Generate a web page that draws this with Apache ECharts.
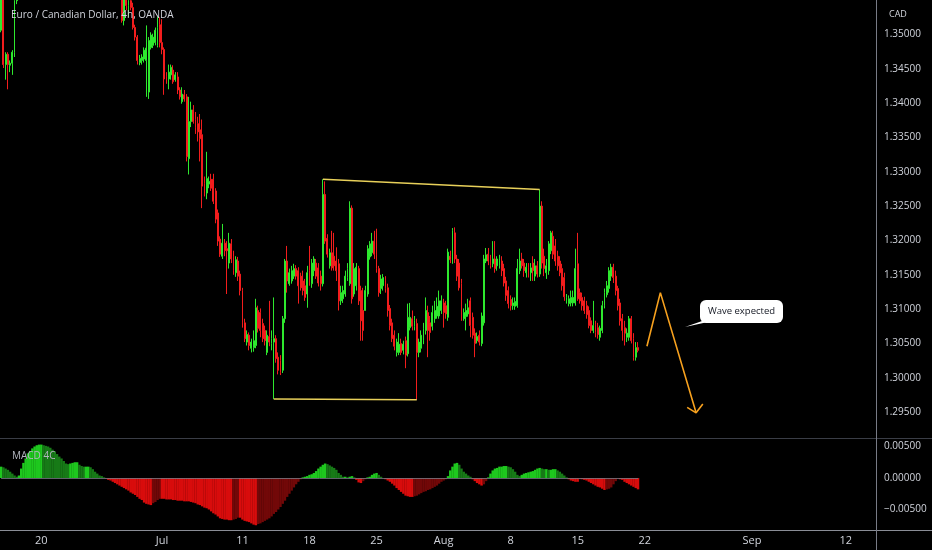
<!DOCTYPE html>
<html>
<head>
<meta charset="utf-8">
<script src="https://cdn.jsdelivr.net/npm/echarts@6.0.0/dist/echarts.min.js"></script>
<style>
html,body{margin:0;padding:0;background:#000;}
#chart{width:932px;height:550px;}
</style>
</head>
<body>
<div id="chart"></div>
<script>
// ---------- calendar ----------
const FIRST_DAY = [2022, 5, 15];      // 2022-06-15 (first 4h bar shown)
const TOTAL_SLOTS = 392;              // bars that fit the visible time range
const HOURS = [0, 4, 8, 12, 16, 20];

// tick labels of the time axis: [day, text]
const tickLabels = [
  ['2022-06-20', '20'], ['2022-07-01', 'Jul'], ['2022-07-11', '11'], ['2022-07-18', '18'],
  ['2022-07-25', '25'], ['2022-08-01', 'Aug'], ['2022-08-08', '8'], ['2022-08-15', '15'],
  ['2022-08-22', '22'], ['2022-09-01', 'Sep'], ['2022-09-12', '12']
];

// ---------- EUR/CAD 4h candles: [open, high, low, close] ----------
const bars_jun15_jun17 = [
  [1.3506,1.3558,1.3503,1.3551],[1.3551,1.3554,1.3451,1.3456],[1.3456,1.3474,1.3434,1.3471],
  [1.3471,1.3474,1.3420,1.3456],[1.3455,1.3462,1.3445,1.3458],[1.3458,1.3477,1.3441,1.3474],
  [1.3474,1.3558,1.3467,1.3549],[1.3549,1.3566,1.3544,1.3562],[1.3562,1.3580,1.3557,1.3575],
  [1.3575,1.3596,1.3570,1.3590],[1.3590,1.3606,1.3585,1.3600],[1.3600,1.3618,1.3594,1.3612],
  [1.3612,1.3636,1.3607,1.3630],[1.3630,1.3652,1.3624,1.3645],[1.3645,1.3650,1.3634,1.3640],
  [1.3640,1.3661,1.3635,1.3655],[1.3655,1.3674,1.3649,1.3668],[1.3668,1.3682,1.3662,1.3675]
];
const bars_jun20_jun24 = [
  [1.3675,1.3680,1.3654,1.3660],[1.3660,1.3666,1.3644,1.3650],[1.3650,1.3661,1.3645,1.3655],
  [1.3655,1.3660,1.3634,1.3640],[1.3640,1.3646,1.3626,1.3632],[1.3632,1.3651,1.3628,1.3645],
  [1.3645,1.3650,1.3632,1.3638],[1.3638,1.3643,1.3619,1.3625],[1.3625,1.3636,1.3620,1.3630],
  [1.3630,1.3635,1.3612,1.3618],[1.3618,1.3628,1.3613,1.3622],[1.3622,1.3646,1.3617,1.3640],
  [1.3640,1.3661,1.3635,1.3655],[1.3655,1.3660,1.3644,1.3650],[1.3650,1.3668,1.3645,1.3662],
  [1.3662,1.3667,1.3642,1.3648],[1.3648,1.3653,1.3629,1.3635],[1.3635,1.3646,1.3630,1.3640],
  [1.3640,1.3645,1.3622,1.3628],[1.3628,1.3633,1.3609,1.3615],[1.3615,1.3626,1.3610,1.3620],
  [1.3620,1.3625,1.3599,1.3605],[1.3605,1.3610,1.3592,1.3598],[1.3598,1.3616,1.3593,1.3610],
  [1.3610,1.3615,1.3596,1.3602],[1.3602,1.3607,1.3584,1.3590],[1.3590,1.3595,1.3579,1.3585],
  [1.3585,1.3598,1.3580,1.3592],[1.3592,1.3597,1.3572,1.3578],[1.3578,1.3583,1.3564,1.3570]
];
const bars_jun27_jul01 = [
  [1.3570,1.3581,1.3565,1.3575],[1.3575,1.3580,1.3559,1.3565],[1.3565,1.3578,1.3560,1.3572],
  [1.3572,1.3577,1.3562,1.3568],[1.3568,1.3573,1.3552,1.3558],[1.3558,1.3566,1.3553,1.3560],
  [1.3560,1.3565,1.3517,1.3520],[1.3520,1.3558,1.3513,1.3552],[1.3552,1.3555,1.3535,1.3542],
  [1.3542,1.3555,1.3525,1.3549],[1.3549,1.3552,1.3535,1.3539],[1.3539,1.3546,1.3507,1.3510],
  [1.3510,1.3514,1.3491,1.3496],[1.3496,1.3499,1.3456,1.3462],[1.3459,1.3470,1.3455,1.3465],
  [1.3462,1.3471,1.3456,1.3467],[1.3464,1.3481,1.3459,1.3477],[1.3462,1.3513,1.3409,1.3480],
  [1.3416,1.3496,1.3406,1.3491],[1.3481,1.3503,1.3478,1.3499],[1.3484,1.3501,1.3480,1.3496],
  [1.3488,1.3510,1.3484,1.3506],[1.3484,1.3525,1.3481,1.3510],[1.3514,1.3525,1.3481,1.3488],
  [1.3488,1.3522,1.3471,1.3478],[1.3478,1.3481,1.3412,1.3435],[1.3438,1.3445,1.3428,1.3435],
  [1.3435,1.3456,1.3420,1.3445],[1.3441,1.3456,1.3434,1.3452],[1.3448,1.3455,1.3428,1.3431]
];
const bars_jul04_jul08 = [
  [1.3434,1.3445,1.3431,1.3441],[1.3438,1.3445,1.3413,1.3419],[1.3419,1.3423,1.3405,1.3409],
  [1.3402,1.3423,1.3399,1.3413],[1.3412,1.3419,1.3402,1.3406],[1.3409,1.3413,1.3315,1.3322],
  [1.3319,1.3409,1.3296,1.3373],[1.3373,1.3402,1.3365,1.3390],[1.3390,1.3397,1.3370,1.3373],
  [1.3376,1.3387,1.3355,1.3365],[1.3370,1.3380,1.3344,1.3358],[1.3361,1.3384,1.3315,1.3348],
  [1.3354,1.3376,1.3247,1.3279],[1.3283,1.3293,1.3264,1.3275],[1.3269,1.3329,1.3260,1.3290],
  [1.3282,1.3293,1.3276,1.3286],[1.3289,1.3297,1.3272,1.3276],[1.3289,1.3297,1.3253,1.3257],
  [1.3272,1.3276,1.3225,1.3231],[1.3240,1.3245,1.3192,1.3199],[1.3202,1.3206,1.3176,1.3180],
  [1.3177,1.3224,1.3173,1.3196],[1.3196,1.3202,1.3177,1.3185],[1.3188,1.3199,1.3122,1.3185],
  [1.3167,1.3211,1.3159,1.3196],[1.3195,1.3202,1.3167,1.3173],[1.3177,1.3185,1.3150,1.3156],
  [1.3153,1.3177,1.3147,1.3172],[1.3170,1.3176,1.3141,1.3148],[1.3151,1.3156,1.3120,1.3127]
];
const bars_jul11_jul15 = [
  [1.3127,1.3131,1.3073,1.3080],[1.3080,1.3086,1.3052,1.3057],[1.3052,1.3069,1.3047,1.3063],
  [1.3062,1.3066,1.3040,1.3047],[1.3043,1.3057,1.3037,1.3052],[1.3044,1.3069,1.3038,1.3054],
  [1.3047,1.3115,1.3043,1.3102],[1.3098,1.3105,1.3066,1.3072],[1.3095,1.3101,1.3059,1.3069],
  [1.3079,1.3086,1.3052,1.3057],[1.3069,1.3076,1.3047,1.3054],[1.3037,1.3069,1.3033,1.3062],
  [1.3060,1.3112,1.3046,1.3052],[1.3050,1.3069,1.3040,1.3057],[1.3052,1.3117,1.2969,1.3057],
  [1.3057,1.3062,1.3022,1.3028],[1.3030,1.3037,1.3005,1.3011],[1.3025,1.3033,1.3004,1.3008],
  [1.3011,1.3090,1.3007,1.3086],[1.3086,1.3173,1.3080,1.3170],[1.3170,1.3192,1.3124,1.3141],
  [1.3137,1.3159,1.3134,1.3153],[1.3141,1.3163,1.3137,1.3156],[1.3148,1.3166,1.3144,1.3159],
  [1.3159,1.3164,1.3143,1.3148],[1.3156,1.3161,1.3108,1.3134],[1.3148,1.3153,1.3127,1.3131],
  [1.3141,1.3156,1.3120,1.3127],[1.3134,1.3144,1.3112,1.3117],[1.3122,1.3163,1.3102,1.3153]
];
const bars_jul18_jul22 = [
  [1.3156,1.3192,1.3134,1.3141],[1.3137,1.3173,1.3131,1.3167],[1.3156,1.3177,1.3148,1.3173],
  [1.3167,1.3173,1.3144,1.3148],[1.3160,1.3167,1.3133,1.3138],[1.3148,1.3156,1.3127,1.3137],
  [1.3137,1.3289,1.3133,1.3267],[1.3267,1.3286,1.3195,1.3199],[1.3203,1.3209,1.3175,1.3180],
  [1.3163,1.3188,1.3159,1.3182],[1.3182,1.3214,1.3156,1.3160],[1.3177,1.3211,1.3156,1.3163],
  [1.3170,1.3190,1.3141,1.3156],[1.3166,1.3173,1.3098,1.3112],[1.3112,1.3134,1.3106,1.3124],
  [1.3115,1.3134,1.3109,1.3127],[1.3122,1.3156,1.3118,1.3148],[1.3146,1.3167,1.3141,1.3159],
  [1.3137,1.3257,1.3134,1.3247],[1.3247,1.3251,1.3108,1.3115],[1.3122,1.3167,1.3118,1.3159],
  [1.3134,1.3167,1.3127,1.3161],[1.3159,1.3163,1.3106,1.3112],[1.3127,1.3134,1.3054,1.3083],
  [1.3098,1.3131,1.3054,1.3069],[1.3098,1.3134,1.3098,1.3127],[1.3122,1.3193,1.3118,1.3188],
  [1.3176,1.3199,1.3172,1.3195],[1.3182,1.3211,1.3177,1.3199],[1.3199,1.3214,1.3173,1.3180]
];
const bars_jul25_jul29 = [
  [1.3180,1.3217,1.3153,1.3159],[1.3159,1.3163,1.3118,1.3124],[1.3130,1.3150,1.3122,1.3144],
  [1.3134,1.3151,1.3127,1.3146],[1.3141,1.3148,1.3124,1.3130],[1.3131,1.3137,1.3089,1.3098],
  [1.3101,1.3106,1.3069,1.3076],[1.3080,1.3086,1.3052,1.3057],[1.3062,1.3069,1.3040,1.3046],
  [1.3037,1.3057,1.3031,1.3052],[1.3037,1.3065,1.3033,1.3049],[1.3050,1.3057,1.3033,1.3037],
  [1.3040,1.3054,1.3034,1.3049],[1.3054,1.3060,1.3014,1.3033],[1.3035,1.3108,1.3031,1.3088],
  [1.3073,1.3109,1.3069,1.3088],[1.3086,1.3098,1.3069,1.3075],[1.3075,1.3090,1.3069,1.3083],
  [1.3079,1.3086,1.2968,1.3037],[1.3037,1.3057,1.3030,1.3052],[1.3043,1.3069,1.3037,1.3062],
  [1.3054,1.3080,1.3049,1.3072],[1.3069,1.3117,1.3063,1.3098],[1.3095,1.3105,1.3030,1.3069],
  [1.3080,1.3090,1.3054,1.3066],[1.3075,1.3105,1.3069,1.3095],[1.3086,1.3112,1.3080,1.3098],
  [1.3090,1.3117,1.3086,1.3104],[1.3090,1.3127,1.3086,1.3112],[1.3098,1.3120,1.3093,1.3112]
];
const bars_aug01_aug05 = [
  [1.3109,1.3115,1.3073,1.3095],[1.3105,1.3112,1.3086,1.3093],[1.3088,1.3188,1.3083,1.3183],
  [1.3177,1.3185,1.3167,1.3172],[1.3170,1.3218,1.3166,1.3214],[1.3211,1.3219,1.3167,1.3173],
  [1.3173,1.3179,1.3141,1.3148],[1.3167,1.3173,1.3127,1.3131],[1.3137,1.3144,1.3083,1.3090],
  [1.3086,1.3101,1.3083,1.3095],[1.3089,1.3108,1.3069,1.3098],[1.3093,1.3115,1.3089,1.3102],
  [1.3112,1.3117,1.3059,1.3076],[1.3088,1.3095,1.3057,1.3062],[1.3065,1.3072,1.3030,1.3050],
  [1.3054,1.3066,1.3050,1.3060],[1.3062,1.3069,1.3047,1.3052],[1.3050,1.3095,1.3046,1.3090],
  [1.3080,1.3179,1.3076,1.3173],[1.3170,1.3189,1.3167,1.3179],[1.3180,1.3189,1.3164,1.3170],
  [1.3173,1.3179,1.3159,1.3164],[1.3166,1.3199,1.3161,1.3173],[1.3173,1.3199,1.3153,1.3159],
  [1.3163,1.3177,1.3156,1.3173],[1.3164,1.3179,1.3159,1.3173],[1.3170,1.3177,1.3148,1.3156],
  [1.3159,1.3166,1.3133,1.3138],[1.3141,1.3147,1.3112,1.3120],[1.3127,1.3133,1.3101,1.3108]
];
const bars_aug08_aug12 = [
  [1.3114,1.3120,1.3098,1.3105],[1.3105,1.3117,1.3099,1.3109],[1.3104,1.3117,1.3099,1.3111],
  [1.3105,1.3173,1.3102,1.3159],[1.3156,1.3188,1.3151,1.3170],[1.3173,1.3182,1.3159,1.3163],
  [1.3167,1.3173,1.3147,1.3156],[1.3153,1.3167,1.3146,1.3161],[1.3161,1.3167,1.3146,1.3154],
  [1.3153,1.3167,1.3141,1.3160],[1.3167,1.3177,1.3141,1.3156],[1.3148,1.3173,1.3141,1.3163],
  [1.3163,1.3170,1.3146,1.3151],[1.3151,1.3274,1.3147,1.3250],[1.3250,1.3257,1.3159,1.3167],
  [1.3177,1.3188,1.3148,1.3159],[1.3153,1.3173,1.3144,1.3163],[1.3156,1.3199,1.3150,1.3195],
  [1.3185,1.3214,1.3180,1.3211],[1.3206,1.3214,1.3173,1.3180],[1.3192,1.3202,1.3163,1.3170],
  [1.3177,1.3185,1.3156,1.3163],[1.3170,1.3177,1.3148,1.3153],[1.3159,1.3166,1.3127,1.3134],
  [1.3146,1.3153,1.3112,1.3118],[1.3112,1.3122,1.3108,1.3117],[1.3108,1.3120,1.3104,1.3115],
  [1.3109,1.3127,1.3104,1.3117],[1.3109,1.3127,1.3104,1.3117],[1.3109,1.3188,1.3105,1.3159]
];
const bars_aug15_aug19 = [
  [1.3166,1.3211,1.3112,1.3115],[1.3124,1.3130,1.3108,1.3112],[1.3117,1.3124,1.3098,1.3105],
  [1.3112,1.3118,1.3093,1.3098],[1.3105,1.3112,1.3086,1.3092],[1.3098,1.3104,1.3072,1.3076],
  [1.3083,1.3088,1.3065,1.3069],[1.3069,1.3112,1.3065,1.3076],[1.3078,1.3083,1.3059,1.3066],
  [1.3073,1.3080,1.3057,1.3063],[1.3059,1.3076,1.3054,1.3072],[1.3069,1.3112,1.3065,1.3105],
  [1.3105,1.3130,1.3101,1.3124],[1.3121,1.3141,1.3117,1.3134],[1.3130,1.3161,1.3124,1.3156],
  [1.3148,1.3166,1.3141,1.3161],[1.3161,1.3166,1.3138,1.3146],[1.3148,1.3156,1.3120,1.3127],
  [1.3130,1.3134,1.3098,1.3105],[1.3109,1.3115,1.3076,1.3083],[1.3086,1.3093,1.3054,1.3069],
  [1.3073,1.3083,1.3047,1.3065],[1.3059,1.3072,1.3052,1.3065],[1.3059,1.3090,1.3054,1.3086],
  [1.3086,1.3090,1.3050,1.3054],[1.3057,1.3065,1.3025,1.3030],[1.3030,1.3052,1.3025,1.3044],
  [1.3044,1.3052,1.3037,1.3040]
];

// ---------- MACD 4C histogram ----------
const macd_jun15_jun17 = [0.0018,0.0017,0.0015,0.0013,0.0010,0.0007,0.0004,0.0002,0.0004,0.0015,0.0024,0.0031,0.0039,0.0043,0.0047,0.0050,0.0052,0.0053];
const macd_jun20_jun24 = [0.0053,0.0052,0.0051,0.0050,0.0048,0.0045,0.0042,0.0038,0.0034,0.0031,0.0027,0.0023,0.0022,0.0023,0.0024,0.0025,0.0025,0.0021,0.0019,0.0018,0.0018,0.0018,0.0017,0.0014,0.0010,0.0007,0.0004,0.0003,0.0001,-0.0001];
const macd_jun27_jul01 = [-0.0003,-0.0004,-0.0006,-0.0008,-0.0010,-0.0012,-0.0014,-0.0016,-0.0018,-0.0020,-0.0023,-0.0025,-0.0027,-0.0030,-0.0033,-0.0035,-0.0039,-0.0041,-0.0042,-0.0043,-0.0040,-0.0038,-0.0035,-0.0033,-0.0033,-0.0033,-0.0034,-0.0034,-0.0034,-0.0035];
const macd_jul04_jul08 = [-0.0035,-0.0036,-0.0036,-0.0036,-0.0037,-0.0037,-0.0037,-0.0038,-0.0039,-0.0040,-0.0042,-0.0043,-0.0045,-0.0047,-0.0048,-0.0050,-0.0053,-0.0056,-0.0058,-0.0061,-0.0064,-0.0065,-0.0066,-0.0066,-0.0067,-0.0067,-0.0066,-0.0065,-0.0063,-0.0063];
const macd_jul11_jul15 = [-0.0066,-0.0068,-0.0069,-0.0070,-0.0072,-0.0074,-0.0075,-0.0073,-0.0072,-0.0070,-0.0068,-0.0066,-0.0064,-0.0061,-0.0057,-0.0054,-0.0050,-0.0046,-0.0041,-0.0036,-0.0030,-0.0025,-0.0020,-0.0015,-0.0010,-0.0006,-0.0002,0.0001,0.0002,0.0003];
const macd_jul18_jul22 = [0.0005,0.0006,0.0008,0.0011,0.0015,0.0018,0.0021,0.0023,0.0022,0.0020,0.0018,0.0016,0.0013,0.0008,0.0005,0.0002,0.0002,0.0001,0.0002,0.0003,0.0001,-0.0003,-0.0007,-0.0008,-0.0005,-0.0002,0.0001,0.0002,0.0005,0.0007];
const macd_jul25_jul29 = [0.0008,0.0005,0.0002,0.0000,-0.0002,-0.0004,-0.0006,-0.0009,-0.0012,-0.0016,-0.0019,-0.0022,-0.0025,-0.0028,-0.0029,-0.0030,-0.0030,-0.0029,-0.0028,-0.0026,-0.0024,-0.0022,-0.0021,-0.0019,-0.0018,-0.0016,-0.0014,-0.0012,-0.0009,-0.0006];
const macd_aug01_aug05 = [-0.0004,-0.0002,0.0003,0.0012,0.0018,0.0023,0.0024,0.0021,0.0015,0.0010,0.0007,0.0004,0.0002,-0.0002,-0.0005,-0.0008,-0.0010,-0.0012,-0.0010,-0.0005,0.0001,0.0007,0.0012,0.0015,0.0016,0.0018,0.0018,0.0019,0.0019,0.0018];
const macd_aug08_aug12 = [0.0017,0.0014,0.0010,0.0005,0.0003,0.0005,0.0007,0.0008,0.0009,0.0010,0.0011,0.0013,0.0015,0.0016,0.0015,0.0014,0.0014,0.0013,0.0013,0.0014,0.0014,0.0012,0.0010,0.0007,0.0004,0.0001,-0.0002,-0.0004,-0.0005,-0.0006];
const macd_aug15_aug19 = [-0.0006,-0.0002,-0.0002,-0.0003,-0.0004,-0.0006,-0.0008,-0.0010,-0.0012,-0.0014,-0.0015,-0.0017,-0.0019,-0.0018,-0.0017,-0.0015,-0.0010,-0.0005,-0.0001,-0.0002,-0.0003,-0.0006,-0.0008,-0.0010,-0.0012,-0.0014,-0.0016,-0.0018];

// ---------- drawings: [bar index, price] ----------
const topTrendLine = [[144, 1.3289], [241, 1.3274]];
const bottomTrendLine = [[122, 1.2969], [186, 1.2968]];
const waveArrow = [[289, 1.3046], [295, 1.3124], [311, 1.2949]];
const waveArrowHead = [[307, 1.2957], [311, 1.2949], [314, 1.2962]];
const calloutText = 'Wave expected';

// ---------- build ----------
const FONT = "'Open Sans', 'DejaVu Sans', sans-serif";
const categories = [];
(function () {
  let t = Date.UTC(FIRST_DAY[0], FIRST_DAY[1], FIRST_DAY[2]);
  while (categories.length < TOTAL_SLOTS) {
    const dt = new Date(t);
    const wd = dt.getUTCDay();
    if (wd !== 0 && wd !== 6) {
      const ds = dt.toISOString().slice(0, 10);
      for (const h of HOURS) {
        if (categories.length < TOTAL_SLOTS) categories.push(ds + ' ' + String(h).padStart(2, '0') + ':00');
      }
    }
    t += 86400000;
  }
})();
const labelMap = {};
tickLabels.forEach(([d, txt]) => { labelMap[d + ' 00:00'] = txt; });

const ohlc = [].concat(bars_jun15_jun17, bars_jun20_jun24, bars_jun27_jul01, bars_jul04_jul08,
  bars_jul11_jul15, bars_jul18_jul22, bars_jul25_jul29, bars_aug01_aug05, bars_aug08_aug12, bars_aug15_aug19);
const candleData = ohlc.map(r => [r[0], r[3], r[2], r[1]]);

const macd = [].concat(macd_jun15_jun17, macd_jun20_jun24, macd_jun27_jul01, macd_jul04_jul08,
  macd_jul11_jul15, macd_jul18_jul22, macd_jul25_jul29, macd_aug01_aug05, macd_aug08_aug12, macd_aug15_aug19);
const macdData = macd.map((v, i) => {
  const prev = i > 0 ? macd[i - 1] : v;
  let c;
  if (v >= 0) c = v >= prev ? '#1ec81e' : '#177a17';
  else c = v <= prev ? '#d80c0c' : '#720808';
  return { value: v, itemStyle: { color: c } };
});

const GREEN = '#2ee82e', RED = '#f21d1d';

const chart = echarts.init(document.getElementById('chart'), null, { renderer: 'canvas' });
chart.setOption({
  backgroundColor: '#000000',
  animation: false,
  title: [
    { text: 'Euro / Canadian Dollar, 4h, OANDA', left: 6, top: 5,
      textStyle: { color: '#d1d4dc', fontSize: 10, fontWeight: 'normal', fontFamily: FONT } },
    { text: 'MACD 4C', left: 7, top: 446,
      textStyle: { color: '#b2b5be', fontSize: 10, fontWeight: 'normal', fontFamily: FONT } },
    { text: 'CAD', left: 884, top: 5,
      textStyle: { color: '#d1d4dc', fontSize: 9, fontWeight: 'normal', fontFamily: FONT } }
  ],
  grid: [
    { left: 0, right: 56, top: -2.5, height: 449 },
    { left: 0, right: 56, top: 415, height: 126 },
    { left: 0, right: 56, top: 520, height: 10 }
  ],
  xAxis: [
    { type: 'category', gridIndex: 0, data: categories, show: false, boundaryGap: true },
    { type: 'category', gridIndex: 1, data: categories, show: false, boundaryGap: true },
    { type: 'category', gridIndex: 2, data: categories, boundaryGap: true,
      axisLine: { show: false }, axisTick: { show: false }, splitLine: { show: false },
      axisLabel: {
        interval: (idx, val) => Object.prototype.hasOwnProperty.call(labelMap, val),
        formatter: (val) => labelMap[val] || '',
        color: '#d1d4dc', fontSize: 11, fontFamily: FONT, margin: 5
      } }
  ],
  yAxis: [
    { type: 'value', gridIndex: 0, position: 'right', min: 1.29, max: 1.355, interval: 0.005, scale: true,
      axisLine: { show: false }, axisTick: { show: false }, splitLine: { show: false },
      axisLabel: { showMinLabel: false, showMaxLabel: false, margin: 8,
        color: '#d1d4dc', fontSize: 10, fontFamily: FONT,
        formatter: v => v.toFixed(5) } },
    { type: 'value', gridIndex: 1, position: 'right', min: -0.01, max: 0.01, interval: 0.005,
      axisLine: { show: false }, axisTick: { show: false }, splitLine: { show: false },
      axisLabel: { showMinLabel: false, showMaxLabel: false, margin: 8,
        color: '#d1d4dc', fontSize: 10, fontFamily: FONT,
        formatter: v => (Math.abs(v) < 1e-9 ? 0 : v).toFixed(5).replace('-', '\u2212') } },
    { type: 'value', gridIndex: 2, show: false }
  ],
  series: [
    { type: 'candlestick', name: 'EURCAD', xAxisIndex: 0, yAxisIndex: 0, data: candleData,
      barWidth: 1.4, clip: true, large: false,
      itemStyle: { color: GREEN, color0: RED, borderColor: GREEN, borderColor0: RED,
        borderColorDoji: GREEN, borderWidth: 1 } },
    { type: 'line', xAxisIndex: 0, yAxisIndex: 0, data: topTrendLine, symbol: 'none', silent: true,
      lineStyle: { color: '#e8d05a', width: 1.5 }, z: 5 },
    { type: 'line', xAxisIndex: 0, yAxisIndex: 0, data: bottomTrendLine, symbol: 'none', silent: true,
      lineStyle: { color: '#e8d05a', width: 1.5 }, z: 5 },
    { type: 'line', xAxisIndex: 0, yAxisIndex: 0, data: waveArrow, symbol: 'none', silent: true,
      lineStyle: { color: '#f7a11e', width: 1.6 }, z: 5 },
    { type: 'line', xAxisIndex: 0, yAxisIndex: 0, data: waveArrowHead, symbol: 'none', silent: true,
      lineStyle: { color: '#f7a11e', width: 1.6 }, z: 5 },
    { type: 'bar', name: 'MACD', xAxisIndex: 1, yAxisIndex: 1, data: macdData,
      barWidth: 2.5, barGap: '0%',
      markLine: { silent: true, symbol: 'none', label: { show: false },
        lineStyle: { color: '#787b86', width: 1, type: 'solid', opacity: 0.8 },
        data: [[{ coord: [0, 0] }, { coord: [macd.length - 1, 0] }]] } }
  ],
  graphic: [
    { type: 'line', shape: { x1: 0, y1: 438.5, x2: 932, y2: 438.5 }, style: { stroke: '#3a3d46', lineWidth: 1 }, silent: true },
    { type: 'line', shape: { x1: 0, y1: 530.5, x2: 932, y2: 530.5 }, style: { stroke: '#8a8d96', lineWidth: 1 }, silent: true },
    { type: 'line', shape: { x1: 876.5, y1: 0, x2: 876.5, y2: 550 }, style: { stroke: '#787b86', lineWidth: 1 }, silent: true },
    { type: 'polygon', shape: { points: [[705, 320], [685, 327], [717, 320]] }, style: { fill: '#ffffff' }, z: 100 },
    { type: 'rect', shape: { x: 700, y: 300, width: 83, height: 23, r: 6 }, style: { fill: '#ffffff' }, z: 100 },
    { type: 'text', x: 741.5, y: 311.5, z: 101,
      style: { text: calloutText, fill: '#131722', font: '9.5px ' + FONT, align: 'center', verticalAlign: 'middle' } }
  ]
});
</script>
</body>
</html>
